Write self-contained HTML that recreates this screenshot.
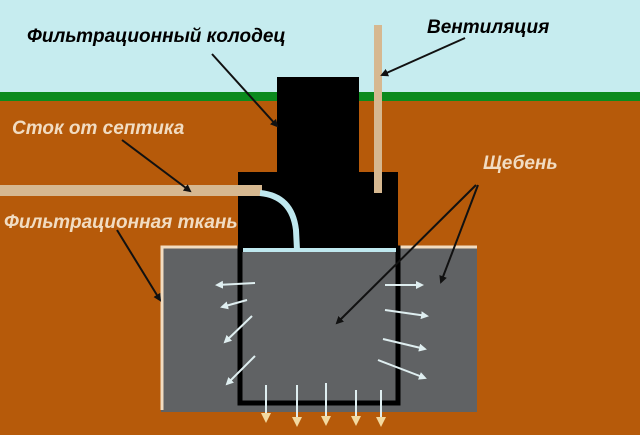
<!DOCTYPE html>
<html><head><meta charset="utf-8"><style>
html,body{margin:0;padding:0;background:#c6ecef;}
svg{display:block}
text{font-family:"Liberation Sans",sans-serif;font-weight:bold;font-style:italic;font-size:19px}
</style></head><body>
<svg width="640" height="435" viewBox="0 0 640 435" xmlns="http://www.w3.org/2000/svg">
<defs>
<marker id="ak" markerWidth="8" markerHeight="8" refX="6" refY="4" orient="auto" markerUnits="userSpaceOnUse"><path d="M0,0 L8,4 L0,8 z" fill="#111"/></marker>
<marker id="aw" markerWidth="8" markerHeight="8" refX="6" refY="4" orient="auto" markerUnits="userSpaceOnUse"><path d="M0,0 L8,4 L0,8 z" fill="#dfeef0"/></marker>
<marker id="ay" markerWidth="10" markerHeight="10" refX="5" refY="5" orient="auto" markerUnits="userSpaceOnUse"><path d="M0,0 L10,5 L0,10 z" fill="#f3d9a0"/></marker>
</defs>
<rect x="0" y="0" width="640" height="92" fill="#c6ecef"/>
<rect x="0" y="92" width="640" height="9" fill="#0b8a1e"/>
<rect x="0" y="101" width="640" height="334" fill="#b65a0a"/>
<rect x="161" y="246" width="316" height="166" fill="#606264"/>
<path d="M162,410 L162,247 L238,247 M398,247 L477,247" stroke="#f2dcc0" stroke-width="3" fill="none"/>
<rect x="277" y="77" width="82" height="97" fill="#000"/>
<rect x="238" y="172" width="160" height="80" fill="#000"/>
<rect x="240" y="248" width="158" height="155" fill="none" stroke="#000" stroke-width="5"/>
<rect x="243" y="248" width="153" height="4" fill="#bfe8ef"/>
<rect x="0" y="185" width="262" height="11" fill="#d6b890"/>
<rect x="374" y="25" width="8" height="168" fill="#d6b890"/>
<path d="M260,193 Q292,196 296,230 L297,250" stroke="#bfe8ef" stroke-width="6" fill="none"/>
<g stroke="#dfeef0" stroke-width="2" fill="none" marker-end="url(#aw)">
<line x1="255" y1="283" x2="217" y2="285"/>
<line x1="247" y1="300" x2="222" y2="307"/>
<line x1="252" y1="316" x2="225" y2="342"/>
<line x1="255" y1="356" x2="227" y2="384"/>
<line x1="385" y1="285" x2="422" y2="285"/>
<line x1="385" y1="310" x2="427" y2="316"/>
<line x1="383" y1="339" x2="425" y2="349"/>
<line x1="378" y1="360" x2="425" y2="378"/>
</g>
<g stroke="#dfeef0" stroke-width="2" fill="none" marker-end="url(#ay)">
<line x1="266" y1="385" x2="266" y2="418"/>
<line x1="297" y1="385" x2="297" y2="422"/>
<line x1="326" y1="383" x2="326" y2="421"/>
<line x1="356" y1="390" x2="356" y2="421"/>
<line x1="381" y1="390" x2="381" y2="422"/>
</g>
<g stroke="#111" stroke-width="2" fill="none" marker-end="url(#ak)">
<line x1="212" y1="54" x2="277" y2="126"/>
<line x1="465" y1="38" x2="382" y2="75"/>
<line x1="122" y1="140" x2="190" y2="191"/>
<line x1="117" y1="230" x2="160" y2="300"/>
<line x1="476" y1="185" x2="337" y2="323"/>
<line x1="478" y1="185" x2="441" y2="282"/>
</g>
<text x="27" y="42" fill="#000">Фильтрационный колодец</text>
<text x="427" y="33" fill="#000">Вентиляция</text>
<text x="12" y="134" fill="#f1dcc2">Сток от септика</text>
<text x="483" y="169" fill="#f1dcc2">Щебень</text>
<text x="4" y="228" fill="#f1dcc2">Фильтрационная ткань</text>
</svg>
</body></html>
